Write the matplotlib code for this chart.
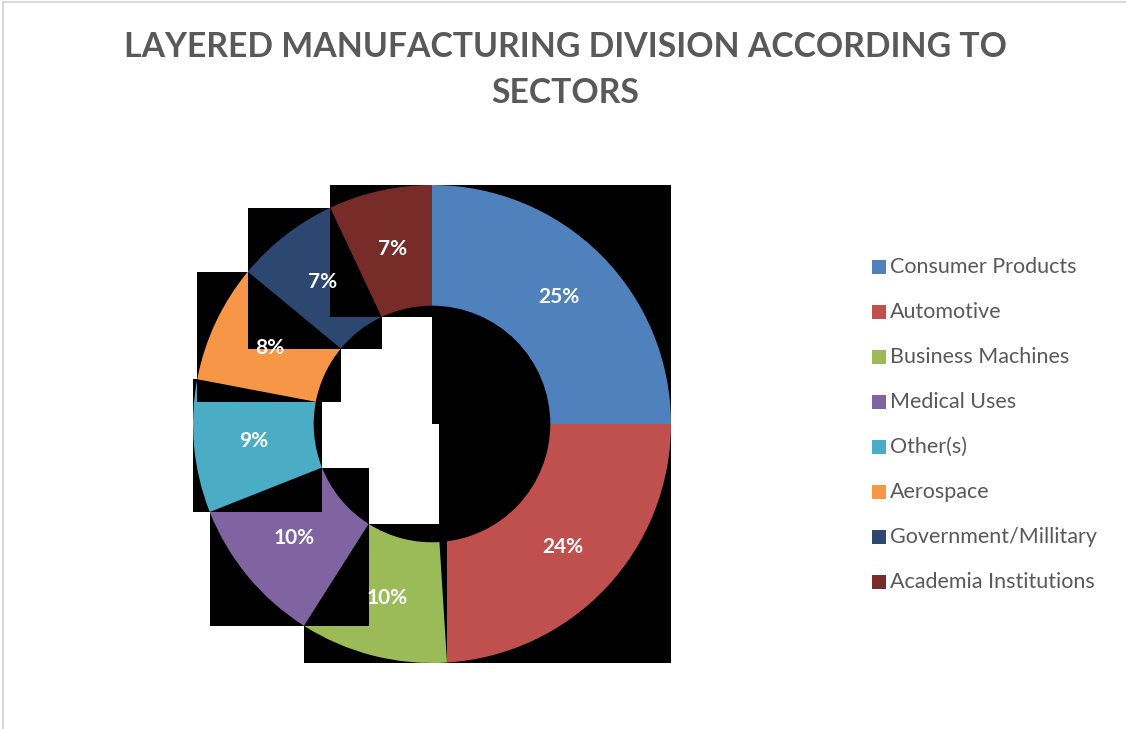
#! /usr/bin/env python3
'''
Donut chart: layered manufacturing split by sector
'''

import matplotlib
matplotlib.use('Agg')
import matplotlib.pyplot as plt
from matplotlib.patches import Rectangle
from matplotlib.lines import Line2D


sectors = ['Consumer Products', 'Automotive', 'Business Machines', 'Medical Uses',
           'Other(s)', 'Aerospace', 'Government/Millitary', 'Academia Institutions']
shares = [25, 24, 10, 10, 9, 8, 7, 7]
colors = ['#4F81BD', '#C0504D', '#9BBB59', '#8064A2',
          '#4BACC6', '#F79646', '#2C4770', '#772C2A']

title = 'LAYERED MANUFACTURING DIVISION ACCORDING TO\nSECTORS'
text_grey = '#595959'


def main():
    plt.rcParams['font.family'] = ['Lato', 'DejaVu Sans']

    W, H, dpi = 1126, 729, 100
    fig = plt.figure(figsize=(W / dpi, H / dpi), dpi=dpi, facecolor='white')

    # donut centre and outer radius in pixels
    cx, cy, r = 432, 424, 239
    ax = fig.add_axes([(cx - r) / W, (H - cy - r) / H, 2 * r / W, 2 * r / H])
    ax.set_axis_off()

    wedges, _, autotexts = ax.pie(
        shares, colors=colors, startangle=90, counterclock=False,
        radius=1.0, autopct='%.0f%%', pctdistance=0.75,
        wedgeprops=dict(width=0.505, edgecolor='none'),
        textprops=dict(color='white', fontsize=15, fontweight='bold'))
    ax.set_xlim(-1, 1)
    ax.set_ylim(-1, 1)

    # every wedge sits on a black box of its own extents, stacked in order
    for i, w in enumerate(wedges):
        bb = w.get_path().get_extents()
        box = Rectangle((bb.x0, bb.y0), bb.width, bb.height,
                        facecolor='black', edgecolor='none', zorder=2 * i + 1)
        ax.add_patch(box)
        w.set_zorder(2 * i + 2)
    for t in autotexts:
        t.set_zorder(100)

    # legend, drawn by hand in pixel positions
    for i, (name, c) in enumerate(zip(sectors, colors)):
        y = H - (267 + 45 * i)
        fig.add_artist(Rectangle((872 / W, (y - 7) / H), 14 / W, 14 / H,
                                 facecolor=c, edgecolor='none',
                                 transform=fig.transFigure))
        fig.text(890 / W, y / H, name, fontsize=15.5, color=text_grey,
                 va='center', ha='left')

    fig.text(565 / W, (H - 70) / H, title, fontsize=24.3, fontweight='bold',
             color=text_grey, ha='center', va='center', linespacing=1.55)

    # chart area border
    fig.add_artist(Line2D([3 / W, 3 / W], [0, 1 - 2 / H], color='#D9D9D9',
                          lw=1.5, transform=fig.transFigure))
    fig.add_artist(Line2D([3 / W, 1], [1 - 2 / H, 1 - 2 / H], color='#D9D9D9',
                          lw=1.5, transform=fig.transFigure))

    fig.savefig('out.png', dpi=dpi, facecolor='white')


if __name__ == '__main__':
    main()
